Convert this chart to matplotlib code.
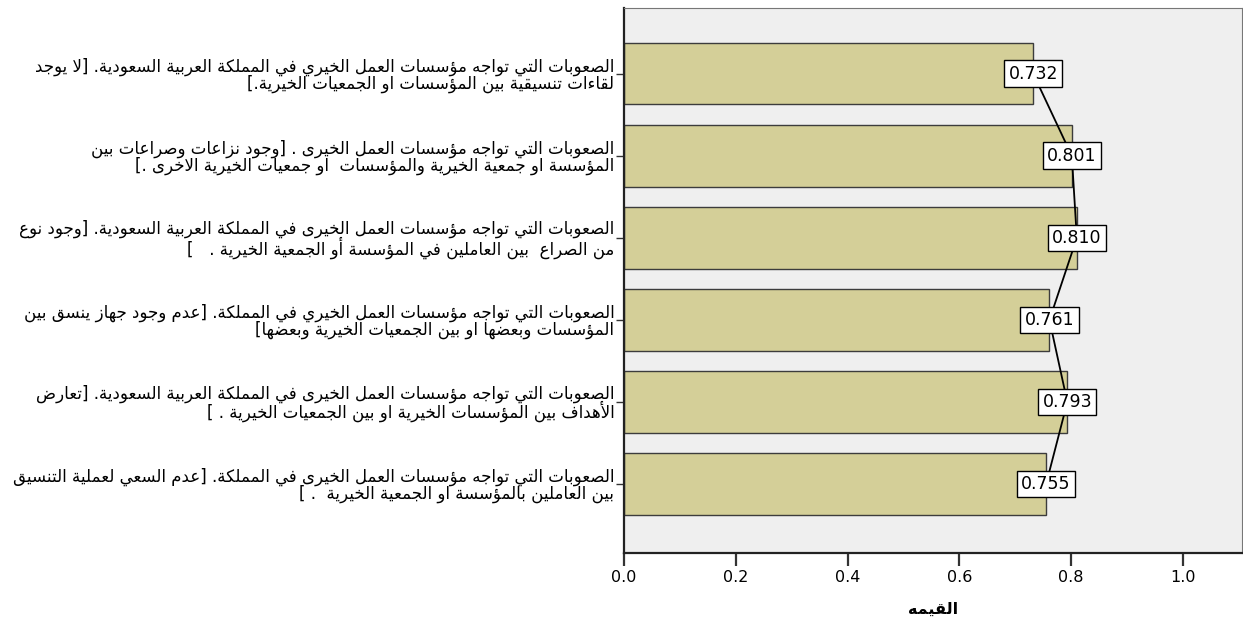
import matplotlib
matplotlib.use("Agg")
import matplotlib.pyplot as plt

# ---- data -------------------------------------------------------------
labels = [
    "الصعوبات التي تواجه مؤسسات العمل الخيري في المملكة العربية السعودية. [لا يوجد\nلقاءات تنسيقية بين المؤسسات او الجمعيات الخيرية.]",
    "الصعوبات التي تواجه مؤسسات العمل الخيرى . [وجود نزاعات وصراعات بين\nالمؤسسة او جمعية الخيرية والمؤسسات  او جمعيات الخيرية الاخرى .]",
    "الصعوبات التي تواجه مؤسسات العمل الخيرى في المملكة العربية السعودية. [وجود نوع\nمن الصراع  بين العاملين في المؤسسة أو الجمعية الخيرية .   ]",
    "الصعوبات التي تواجه مؤسسات العمل الخيري في المملكة. [عدم وجود جهاز ينسق بين\nالمؤسسات وبعضها او بين الجمعيات الخيرية وبعضها]",
    "الصعوبات التي تواجه مؤسسات العمل الخيرى في المملكة العربية السعودية. [تعارض\nالأهداف بين المؤسسات الخيرية او بين الجمعيات الخيرية . ]",
    "الصعوبات التي تواجه مؤسسات العمل الخيرى في المملكة. [عدم السعي لعملية التنسيق\nبين العاملين بالمؤسسة او الجمعية الخيرية  . ]",
]
values = [0.732, 0.801, 0.810, 0.761, 0.793, 0.755]
xticks = [0.0, 0.2, 0.4, 0.6, 0.8, 1.0]
xlabel = "القيمه"

# ---- minimal Arabic shaping (presentation forms) + RTL ordering -------
_FORMS = {  # letter: (isolated, final, initial, medial)
    "ء": (0xFE80, None, None, None),
    "آ": (0xFE81, 0xFE82, None, None), "أ": (0xFE83, 0xFE84, None, None),
    "ؤ": (0xFE85, 0xFE86, None, None), "إ": (0xFE87, 0xFE88, None, None),
    "ا": (0xFE8D, 0xFE8E, None, None), "ة": (0xFE93, 0xFE94, None, None),
    "د": (0xFEA9, 0xFEAA, None, None), "ذ": (0xFEAB, 0xFEAC, None, None),
    "ر": (0xFEAD, 0xFEAE, None, None), "ز": (0xFEAF, 0xFEB0, None, None),
    "و": (0xFEED, 0xFEEE, None, None), "ى": (0xFEEF, 0xFEF0, None, None),
}
for ch, base in [("ئ", 0xFE89), ("ب", 0xFE8F), ("ت", 0xFE95), ("ث", 0xFE99),
                 ("ج", 0xFE9D), ("ح", 0xFEA1), ("خ", 0xFEA5), ("س", 0xFEB1),
                 ("ش", 0xFEB5), ("ص", 0xFEB9), ("ض", 0xFEBD), ("ط", 0xFEC1),
                 ("ظ", 0xFEC5), ("ع", 0xFEC9), ("غ", 0xFECD), ("ف", 0xFED1),
                 ("ق", 0xFED5), ("ك", 0xFED9), ("ل", 0xFEDD), ("م", 0xFEE1),
                 ("ن", 0xFEE5), ("ه", 0xFEE9), ("ي", 0xFEF1)]:
    _FORMS[ch] = (base, base + 1, base + 2, base + 3)
_LAM_ALEF = {"آ": (0xFEF5, 0xFEF6), "أ": (0xFEF7, 0xFEF8),
             "إ": (0xFEF9, 0xFEFA), "ا": (0xFEFB, 0xFEFC)}
_MIRROR = {"[": "]", "]": "[", "(": ")", ")": "("}


def _dual(ch):
    f = _FORMS.get(ch)
    return f is not None and f[2] is not None


def _joins(ch):
    f = _FORMS.get(ch)
    return f is not None and f[1] is not None


def shape_line(s):
    out = []
    i = 0
    n = len(s)
    while i < n:
        ch = s[i]
        if ch not in _FORMS:
            out.append(_MIRROR.get(ch, ch))
            i += 1
            continue
        prev_conn = i > 0 and _dual(s[i - 1]) and not (
            s[i - 1] == "ل" and ch in _LAM_ALEF)
        if ch == "ل" and i + 1 < n and s[i + 1] in _LAM_ALEF:
            iso, fin = _LAM_ALEF[s[i + 1]]
            out.append(chr(fin if prev_conn else iso))
            i += 2
            continue
        next_conn = i + 1 < n and _joins(s[i + 1]) and _dual(ch)
        iso, fin, ini, med = _FORMS[ch]
        if prev_conn and next_conn:
            code = med
        elif prev_conn:
            code = fin
        elif next_conn:
            code = ini
        else:
            code = iso
        out.append(chr(code))
        i += 1
    return "".join(out)[::-1]


def rtl(text):
    return "\n".join(shape_line(line) for line in text.split("\n"))


# ---- figure -----------------------------------------------------------
plt.rcParams["font.family"] = ["DejaVu Sans"]
fig = plt.figure(figsize=(12.43, 6.18), dpi=100)
ax = fig.add_axes([0.502, 0.105, 0.497, 0.882])
ax.set_facecolor("#efefef")

pos = list(range(len(values)))
ax.barh(pos, values, height=0.75, color="#d4cf98", edgecolor="#3c3c3c",
        linewidth=1.0, zorder=2)
ax.plot(values, pos, color="black", linewidth=1.3, zorder=3)
for y, v in zip(pos, values):
    ax.text(v, y, f"{v:.3f}", ha="center", va="center", fontsize=12.5,
            zorder=4,
            bbox=dict(boxstyle="square,pad=0.25", facecolor="white",
                      edgecolor="black", linewidth=1.0))

ax.set_xlim(0, 1.105)
ax.set_ylim(5.84, -0.8)
ax.set_xticks(xticks)
ax.set_xticklabels([f"{t:.1f}" for t in xticks], fontsize=11.5)
ax.set_yticks(pos)
ax.set_yticklabels([rtl(l) for l in labels], fontsize=12,
                   ha="right", multialignment="right", linespacing=0.9)
ax.tick_params(axis="x", length=9, width=1.6, color="#333333", pad=3)
ax.tick_params(axis="y", length=6, width=1.0, color="#333333", pad=1)
ax.set_xlabel(rtl(xlabel), fontsize=11.5, fontweight="bold", labelpad=12)

for side in ("left", "bottom"):
    ax.spines[side].set_linewidth(1.6)
    ax.spines[side].set_color("#222222")
for side in ("top", "right"):
    ax.spines[side].set_linewidth(0.8)
    ax.spines[side].set_color("#777777")

fig.savefig("out.png", dpi=100, facecolor="white")
